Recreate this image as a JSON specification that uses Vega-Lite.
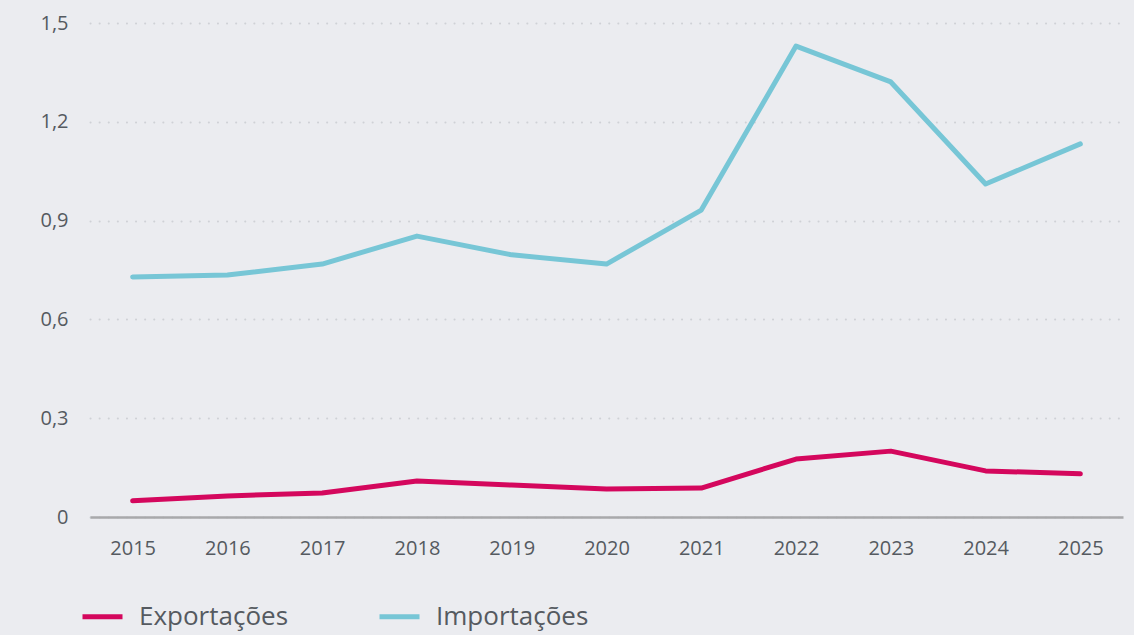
{
  "$schema": "https://vega.github.io/schema/vega-lite/v6.json",
  "width": 1033,
  "height": 494,
  "autosize": {"type": "none"},
  "padding": {"left": 90, "top": 23, "right": 11, "bottom": 118},
  "background": "#ebecf0",
  "config": {
    "view": {"stroke": null},
    "font": "Open Sans",
    "axis": {"labelFont": "Open Sans", "labelColor": "#555a60"},
    "legend": {"labelFont": "Open Sans"}
  },
  "data": {
    "values": [
      {"ano": "2015", "serie": "Exportações", "valor": 0.049},
      {"ano": "2016", "serie": "Exportações", "valor": 0.064},
      {"ano": "2017", "serie": "Exportações", "valor": 0.073},
      {"ano": "2018", "serie": "Exportações", "valor": 0.109},
      {"ano": "2019", "serie": "Exportações", "valor": 0.097},
      {"ano": "2020", "serie": "Exportações", "valor": 0.085},
      {"ano": "2021", "serie": "Exportações", "valor": 0.088},
      {"ano": "2022", "serie": "Exportações", "valor": 0.176},
      {"ano": "2023", "serie": "Exportações", "valor": 0.200},
      {"ano": "2024", "serie": "Exportações", "valor": 0.140},
      {"ano": "2025", "serie": "Exportações", "valor": 0.131},
      {"ano": "2015", "serie": "Importações", "valor": 0.729},
      {"ano": "2016", "serie": "Importações", "valor": 0.735},
      {"ano": "2017", "serie": "Importações", "valor": 0.768},
      {"ano": "2018", "serie": "Importações", "valor": 0.853},
      {"ano": "2019", "serie": "Importações", "valor": 0.796},
      {"ano": "2020", "serie": "Importações", "valor": 0.768},
      {"ano": "2021", "serie": "Importações", "valor": 0.932},
      {"ano": "2022", "serie": "Importações", "valor": 1.430},
      {"ano": "2023", "serie": "Importações", "valor": 1.321},
      {"ano": "2024", "serie": "Importações", "valor": 1.011},
      {"ano": "2025", "serie": "Importações", "valor": 1.133}
    ]
  },
  "mark": {"type": "line", "strokeWidth": 5, "strokeCap": "round", "strokeJoin": "round"},
  "encoding": {
    "x": {
      "field": "ano",
      "type": "ordinal",
      "scale": {"type": "point", "padding": 0.45},
      "axis": {
        "title": null,
        "labelAngle": 0,
        "labelFontSize": 20,
        "labelPadding": 21,
        "ticks": false,
        "grid": false,
        "domainColor": "#a8a9ab",
        "domainWidth": 2.5
      }
    },
    "y": {
      "field": "valor",
      "type": "quantitative",
      "scale": {"domain": [0, 1.5], "nice": false},
      "axis": {
        "title": null,
        "values": [0, 0.3, 0.6, 0.9, 1.2, 1.5],
        "labelExpr": "datum.value == 0 ? '0' : replace(format(datum.value, '.1f'), '.', ',')",
        "labelFontSize": 20,
        "labelPadding": 22,
        "ticks": false,
        "domain": false,
        "gridColor": "#cfd1d6",
        "gridWidth": 2,
        "gridDash": [0.1, 9],
        "gridCap": "round"
      }
    },
    "color": {
      "field": "serie",
      "type": "nominal",
      "scale": {"domain": ["Exportações", "Importações"], "range": ["#d4075d", "#77c6d6"]},
      "legend": {
        "title": null,
        "orient": "none",
        "legendX": -10,
        "legendY": 571,
        "direction": "horizontal",
        "columns": 2,
        "columnPadding": 80,
        "symbolType": "stroke",
        "symbolSize": 1600,
        "symbolStrokeWidth": 5,
        "labelFontSize": 26,
        "labelColor": "#555a60",
        "labelOffset": 14
      }
    }
  }
}
